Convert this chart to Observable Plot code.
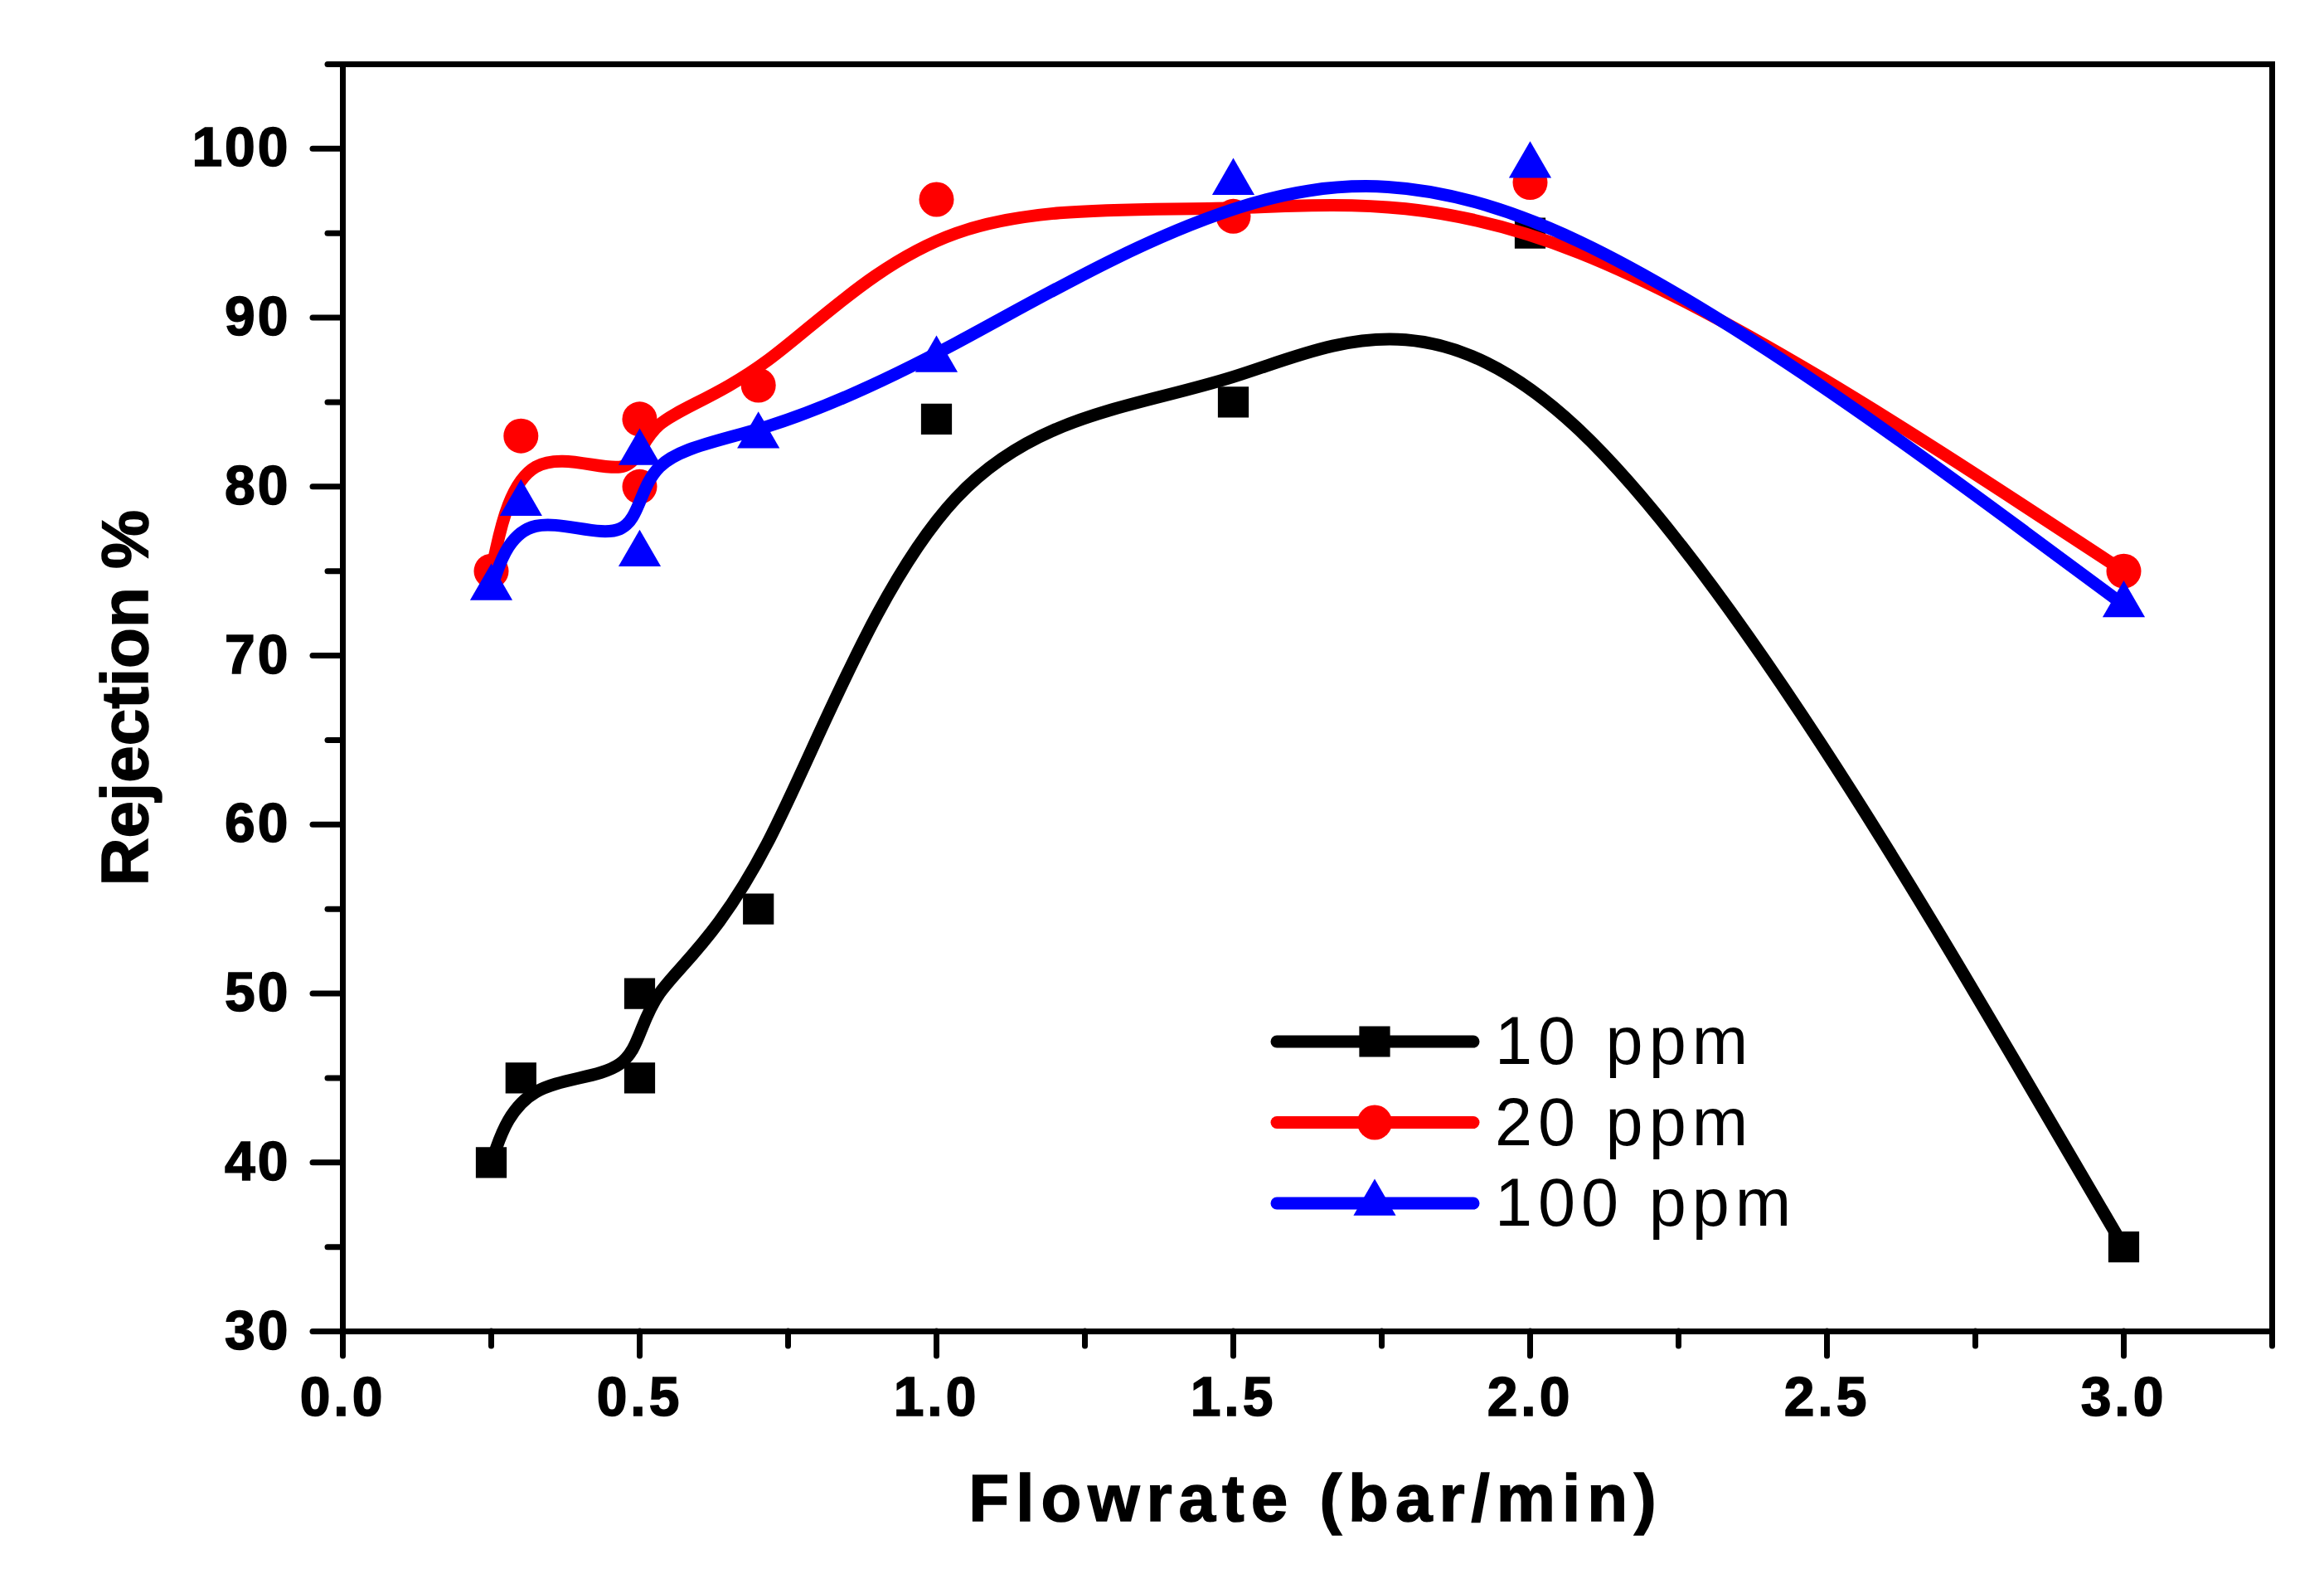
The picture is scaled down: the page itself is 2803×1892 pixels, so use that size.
<!DOCTYPE html>
<html>
<head>
<meta charset="utf-8">
<script src="https://cdn.jsdelivr.net/npm/d3@7"></script>
<script src="https://cdn.jsdelivr.net/npm/@observablehq/plot@0.6"></script>
<style>
  body { margin: 0; background: white; }
  #chart svg { display: block; }
  g[aria-label="x-axis tick label"] text { letter-spacing: 4px; stroke: black; stroke-width: 1.5px; }
  g[aria-label="y-axis tick label"] text { letter-spacing: 3px; stroke: black; stroke-width: 1.5px; }
</style>
</head>
<body>
<div id="chart"></div>
<script>
// datos
const flow = [0.25, 0.3, 0.5, 0.5, 0.7, 1.0, 1.5, 2.0, 3.0];
const rej10 = [40, 45, 45, 50, 55, 84, 85, 95, 35];
const rej20 = [75, 83, 80, 84, 86, 97, 96, 98, 75];
const rej100 = [74, 79, 76, 82, 83, 87.5, 98, 99, 73];

const seriesNames = ["10 ppm", "20 ppm", "100 ppm"];
const seriesColors = ["#000000", "#ff0000", "#0000ff"];
const seriesSymbols = ["square", "circle", "triangle"];

const xMajor = [0, 0.5, 1.0, 1.5, 2.0, 2.5, 3.0];
const xMinor = [0.25, 0.75, 1.25, 1.75, 2.25, 2.75, 3.25];
const yMajor = [30, 40, 50, 60, 70, 80, 90, 100];
const yMinor = [35, 45, 55, 65, 75, 85, 95, 105];

const xTitle = "Flowrate (bar/min)";
const yTitle = "Rejection %";

const series = [rej10, rej20, rej100].map((vals, i) =>
  flow.map((f, j) => ({flow: f, rej: vals[j], name: seriesNames[i]}))
);

const symbolMap = {square: d3.symbolSquare, circle: d3.symbolCircle, triangle: d3.symbolTriangle};
const radius = [21, 21, 19];

const marks = [];
series.forEach((d, i) => {
  marks.push(Plot.line(d, {x: "flow", y: "rej", curve: "basis", stroke: seriesColors[i], strokeWidth: 15, strokeLinejoin: "round", strokeLinecap: "round"}));
  marks.push(Plot.dot(d, {x: "flow", y: "rej", symbol: () => seriesSymbols[i], fill: seriesColors[i], stroke: "none", r: radius[i]}));
});

let chart = Plot.plot({
  width: 2803,
  height: 1892,
  marginLeft: 413,
  marginRight: 63,
  marginTop: 77,
  marginBottom: 287,
  style: {fontFamily: "'Liberation Sans', Arial, sans-serif", background: "white", color: "black"},
  x: {domain: [0, 3.25]},
  y: {domain: [30, 105]},
  marks: [
    ...marks,
    Plot.axisX(xMinor, {tickSize: 18, tickFormat: () => "", strokeWidth: 7, strokeLinecap: "round", label: null}),
    Plot.axisX(xMajor, {tickSize: 30, tickPadding: 25, tickFormat: d3.format(".1f"), strokeWidth: 7, strokeLinecap: "round", fontSize: 66, fontWeight: "bold", label: null}),
    Plot.axisY(yMinor, {tickSize: 18, tickFormat: () => "", strokeWidth: 7, strokeLinecap: "round", label: null}),
    Plot.axisY(yMajor, {tickSize: 36, tickPadding: 27, strokeWidth: 7, strokeLinecap: "round", fontSize: 66, fontWeight: "bold", label: null}),
    Plot.frame({stroke: "black", strokeWidth: 7}),
    Plot.text([xTitle], {frameAnchor: "bottom", lineAnchor: "middle", textAnchor: "middle", dy: 203, dx: 10, fontSize: 80, fontWeight: "bold"}),
    Plot.text([yTitle], {frameAnchor: "left", lineAnchor: "middle", textAnchor: "middle", dx: -261, rotate: -90, fontSize: 80, fontWeight: "bold"})
  ]
});

// leyenda
const svg = d3.select(chart);
svg.selectAll("text").filter(function() { return this.textContent === xTitle; })
  .style("letter-spacing", "8px").style("stroke", "black").style("stroke-width", "1.5px");
svg.selectAll("text").filter(function() { return this.textContent === yTitle; })
  .style("stroke", "black").style("stroke-width", "1.5px");
const lg = svg.append("g");
seriesNames.forEach((name, i) => {
  const yy = 1256 + i * 97.5;
  lg.append("line")
    .attr("x1", 1540).attr("x2", 1777).attr("y1", yy).attr("y2", yy)
    .attr("stroke", seriesColors[i]).attr("stroke-width", 15).attr("stroke-linecap", "round");
  lg.append("path")
    .attr("d", d3.symbol(symbolMap[seriesSymbols[i]], Math.PI * radius[i] * radius[i])())
    .attr("transform", `translate(1658,${yy})`)
    .attr("fill", seriesColors[i]);
  lg.append("text")
    .attr("x", 1803).attr("y", yy + 27)
    .attr("text-anchor", "start")
    .attr("font-size", 81).attr("fill", "black")
    .style("letter-spacing", "7px")
    .text(name);
});

d3.select('#chart').append(() => chart);
</script>
</body>
</html>
